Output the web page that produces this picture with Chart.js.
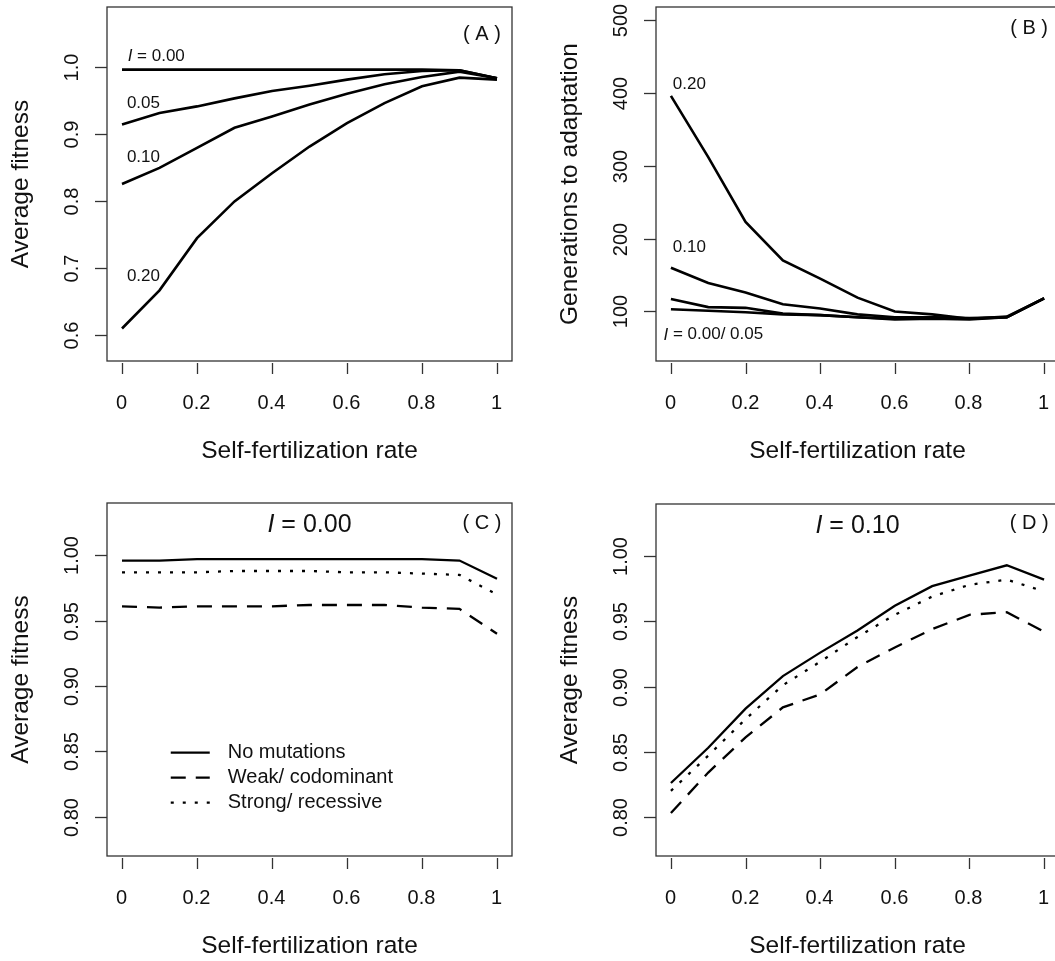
<!DOCTYPE html>
<html>
<head>
<meta charset="utf-8">
<script src="https://cdn.jsdelivr.net/npm/chart.js@4"></script>
<style>
  body { margin: 0; background: #fff; width: 1055px; height: 961px; overflow: hidden; position: relative; }
  canvas { position: absolute; }
</style>
</head>
<body>
<canvas id="chartA" width="530" height="480" style="left:0;top:0"></canvas>
<canvas id="chartB" width="540" height="480" style="left:530px;top:0"></canvas>
<canvas id="chartC" width="530" height="481" style="left:0;top:480px"></canvas>
<canvas id="chartD" width="540" height="481" style="left:530px;top:480px"></canvas>
<script>
// selfing rate on the x axis (same for all panels)
const selfRate = [0, 0.1, 0.2, 0.3, 0.4, 0.5, 0.6, 0.7, 0.8, 0.9, 1.0];
const xTicks = [0, 0.2, 0.4, 0.6, 0.8, 1];
const xTickLabels = ['0', '0.2', '0.4', '0.6', '0.8', '1'];

// (A) average fitness by inbreeding depression level I
const fitI000 = [0.996, 0.996, 0.996, 0.996, 0.996, 0.996, 0.996, 0.996, 0.996, 0.995, 0.983];
const fitI005 = [0.914, 0.931, 0.941, 0.953, 0.964, 0.972, 0.981, 0.989, 0.994, 0.995, 0.983];
const fitI010 = [0.825, 0.849, 0.879, 0.909, 0.926, 0.944, 0.960, 0.974, 0.985, 0.993, 0.983];
const fitI020 = [0.609, 0.666, 0.744, 0.799, 0.841, 0.881, 0.916, 0.946, 0.971, 0.984, 0.981];
const fitTicks = [0.6, 0.7, 0.8, 0.9, 1.0];
const fitTickLabels = ['0.6', '0.7', '0.8', '0.9', '1.0'];

// (B) generations to adaptation
const genI000 = [103, 101, 99, 96, 95, 92, 89, 90, 89, 92, 118];
const genI005 = [117, 106, 105, 97, 95, 92, 90, 92, 91, 92, 118];
const genI010 = [160, 139, 126, 110, 104, 96, 92, 92, 90, 92, 118];
const genI020 = [396, 312, 223, 170, 145, 119, 100, 96, 90, 93, 118];
const genTicks = [100, 200, 300, 400, 500];
const genTickLabels = ['100', '200', '300', '400', '500'];

// (C) I = 0.00, by mutation type
const noMutC  = [0.996, 0.996, 0.997, 0.997, 0.997, 0.997, 0.997, 0.997, 0.997, 0.996, 0.982];
const weakC   = [0.961, 0.960, 0.961, 0.961, 0.961, 0.962, 0.962, 0.962, 0.960, 0.959, 0.940];
const strongC = [0.987, 0.987, 0.987, 0.988, 0.988, 0.988, 0.987, 0.987, 0.986, 0.985, 0.970];

// (D) I = 0.10, by mutation type
const noMutD  = [0.826, 0.853, 0.883, 0.908, 0.926, 0.943, 0.962, 0.977, 0.985, 0.993, 0.982];
const weakD   = [0.803, 0.834, 0.861, 0.884, 0.894, 0.915, 0.930, 0.944, 0.955, 0.957, 0.942];
const strongD = [0.820, 0.847, 0.875, 0.901, 0.919, 0.938, 0.955, 0.969, 0.978, 0.982, 0.973];
const mutTicks = [0.80, 0.85, 0.90, 0.95, 1.00];
const mutTickLabels = ['0.80', '0.85', '0.90', '0.95', '1.00'];

const mutNames = ['No mutations', 'Weak/ codominant', 'Strong/ recessive'];

const FONT = "'Liberation Sans', Arial, sans-serif";
const INK = '#111';

function toPoints(values) {
    return selfRate.map((x, i) => ({ x: x, y: values[i] }));
}

function lineSet(label, values, width, dash) {
    return {
        label: label,
        data: toPoints(values),
        borderColor: '#000',
        borderWidth: width,
        borderDash: dash || [],
        borderCapStyle: 'butt',
        pointRadius: 0,
        tension: 0,
        fill: false
    };
}

// draws text made of plain / italic pieces, e.g. italic "I" followed by " = 0.00"
function drawParts(ctx, parts, x, y, size, align) {
    let total = 0;
    parts.forEach(p => {
        ctx.font = (p[1] ? 'italic ' : '') + size + 'px ' + FONT;
        total += ctx.measureText(p[0]).width;
    });
    let cx = align === 'center' ? x - total / 2 : x;
    ctx.textAlign = 'left';
    ctx.textBaseline = 'middle';
    parts.forEach(p => {
        ctx.font = (p[1] ? 'italic ' : '') + size + 'px ' + FONT;
        ctx.fillText(p[0], cx, y);
        cx += ctx.measureText(p[0]).width;
    });
}

// R-like box, detached ticks, rotated y labels, notes and legend
const rFrame = {
    id: 'rFrame',
    afterDraw(chart, args, opts) {
        const ctx = chart.ctx;
        const a = chart.chartArea;
        const xs = chart.scales.x;
        const ys = chart.scales.y;
        ctx.save();
        ctx.strokeStyle = '#333';
        ctx.lineWidth = 1.3;
        ctx.strokeRect(a.left, a.top, a.right - a.left, a.bottom - a.top);

        ctx.fillStyle = INK;
        // x axis
        xTicks.forEach((t, i) => {
            const px = Math.round(xs.getPixelForValue(t)) + 0.5;
            ctx.beginPath();
            ctx.moveTo(px, a.bottom + 2);
            ctx.lineTo(px, a.bottom + 13);
            ctx.stroke();
            ctx.font = '20px ' + FONT;
            ctx.textAlign = 'center';
            ctx.textBaseline = 'middle';
            ctx.fillText(xTickLabels[i], px - 1, a.bottom + 42);
        });
        ctx.font = '24.5px ' + FONT;
        ctx.fillText('Self-fertilization rate', (a.left + a.right) / 2, a.bottom + 90);

        // y axis
        opts.yTicks.forEach((t, i) => {
            const py = Math.round(ys.getPixelForValue(t)) + 0.5;
            ctx.beginPath();
            ctx.moveTo(a.left - 12, py);
            ctx.lineTo(a.left, py);
            ctx.stroke();
            ctx.save();
            ctx.translate(a.left - 35, py);
            ctx.rotate(-Math.PI / 2);
            ctx.font = '20px ' + FONT;
            ctx.textAlign = 'center';
            ctx.textBaseline = 'middle';
            ctx.fillText(opts.yLabels[i], 0, 0);
            ctx.restore();
        });
        ctx.save();
        ctx.translate(a.left - 86, (a.top + a.bottom) / 2);
        ctx.rotate(-Math.PI / 2);
        ctx.font = '24.5px ' + FONT;
        ctx.textAlign = 'center';
        ctx.textBaseline = 'middle';
        ctx.fillText(opts.yTitle, 0, 0);
        ctx.restore();

        // panel tag and curve notes, placed in data units
        drawParts(ctx, [[opts.tag, false]], xs.getPixelForValue(0.96), ys.getPixelForValue(opts.tagY), 20, 'center');
        opts.notes.forEach(n => {
            drawParts(ctx, n.parts, xs.getPixelForValue(n.x), ys.getPixelForValue(n.y), n.size, n.align);
        });

        if (opts.legend) {
            const lx = xs.getPixelForValue(opts.legend.x);
            let ly = ys.getPixelForValue(opts.legend.y);
            chart.data.datasets.forEach(ds => {
                ctx.save();
                ctx.strokeStyle = ds.borderColor;
                ctx.lineWidth = ds.borderWidth;
                ctx.lineCap = 'butt';
                ctx.setLineDash(ds.borderDash);
                ctx.beginPath();
                ctx.moveTo(lx, ly);
                ctx.lineTo(lx + 39, ly);
                ctx.stroke();
                ctx.restore();
                drawParts(ctx, [[ds.label, false]], lx + 57, ly, 20, 'left');
                ly += 25;
            });
        }
        ctx.restore();
    }
};

function makePanel(id, datasets, pad, yMin, yMax, frameOpts) {
    return new Chart(document.getElementById(id), {
        type: 'line',
        data: { datasets: datasets },
        options: {
            responsive: false,
            animation: false,
            layout: { padding: pad },
            scales: {
                x: { type: 'linear', min: -0.04, max: 1.04, display: false },
                y: { type: 'linear', min: yMin, max: yMax, display: false }
            },
            plugins: {
                legend: { display: false },
                tooltip: { enabled: false },
                rFrame: frameOpts
            }
        },
        plugins: [rFrame]
    });
}

const DASH = [15, 10];
const DOT = [3, 9];

makePanel('chartA', [
    lineSet('0.00', fitI000, 2.6),
    lineSet('0.05', fitI005, 2.6),
    lineSet('0.10', fitI010, 2.6),
    lineSet('0.20', fitI020, 2.6)
], { left: 107, top: 7, right: 18, bottom: 119 }, 0.5604, 1.0896, {
    yTicks: fitTicks, yLabels: fitTickLabels, yTitle: 'Average fitness',
    tag: '( A )', tagY: 1.048,
    notes: [
        { parts: [['I', true], [' = 0.00', false]], x: 0.015, y: 1.016, size: 17, align: 'left' },
        { parts: [['0.05', false]], x: 0.013, y: 0.946, size: 17, align: 'left' },
        { parts: [['0.10', false]], x: 0.013, y: 0.865, size: 17, align: 'left' },
        { parts: [['0.20', false]], x: 0.013, y: 0.6875, size: 17, align: 'left' }
    ]
});

makePanel('chartB', [
    lineSet('0.00', genI000, 2.6),
    lineSet('0.05', genI005, 2.6),
    lineSet('0.10', genI010, 2.6),
    lineSet('0.20', genI020, 2.6)
], { left: 126, top: 7, right: 11, bottom: 119 }, 32, 518, {
    yTicks: genTicks, yLabels: genTickLabels, yTitle: 'Generations to adaptation',
    tag: '( B )', tagY: 488,
    notes: [
        { parts: [['0.20', false]], x: 0.005, y: 412, size: 17, align: 'left' },
        { parts: [['0.10', false]], x: 0.005, y: 188, size: 17, align: 'left' },
        { parts: [['I', true], [' = 0.00/ 0.05', false]], x: -0.02, y: 68, size: 17, align: 'left' }
    ]
});

makePanel('chartC', [
    lineSet(mutNames[0], noMutC, 2.3),
    lineSet(mutNames[1], weakC, 2.3, DASH),
    lineSet(mutNames[2], strongC, 2.3, DOT)
], { left: 107, top: 23, right: 18, bottom: 105 }, 0.77, 1.04, {
    yTicks: mutTicks, yLabels: mutTickLabels, yTitle: 'Average fitness',
    tag: '( C )', tagY: 1.0247,
    notes: [
        { parts: [['I', true], [' = 0.00', false]], x: 0.5, y: 1.023, size: 25, align: 'center' }
    ],
    legend: { x: 0.13, y: 0.849 }
});

makePanel('chartD', [
    lineSet(mutNames[0], noMutD, 2.3),
    lineSet(mutNames[1], weakD, 2.3, DASH),
    lineSet(mutNames[2], strongD, 2.3, DOT)
], { left: 126, top: 24, right: 11, bottom: 105 }, 0.77, 1.04, {
    yTicks: mutTicks, yLabels: mutTickLabels, yTitle: 'Average fitness',
    tag: '( D )', tagY: 1.0247,
    notes: [
        { parts: [['I', true], [' = 0.10', false]], x: 0.5, y: 1.023, size: 25, align: 'center' }
    ]
});
</script>
</body>
</html>
